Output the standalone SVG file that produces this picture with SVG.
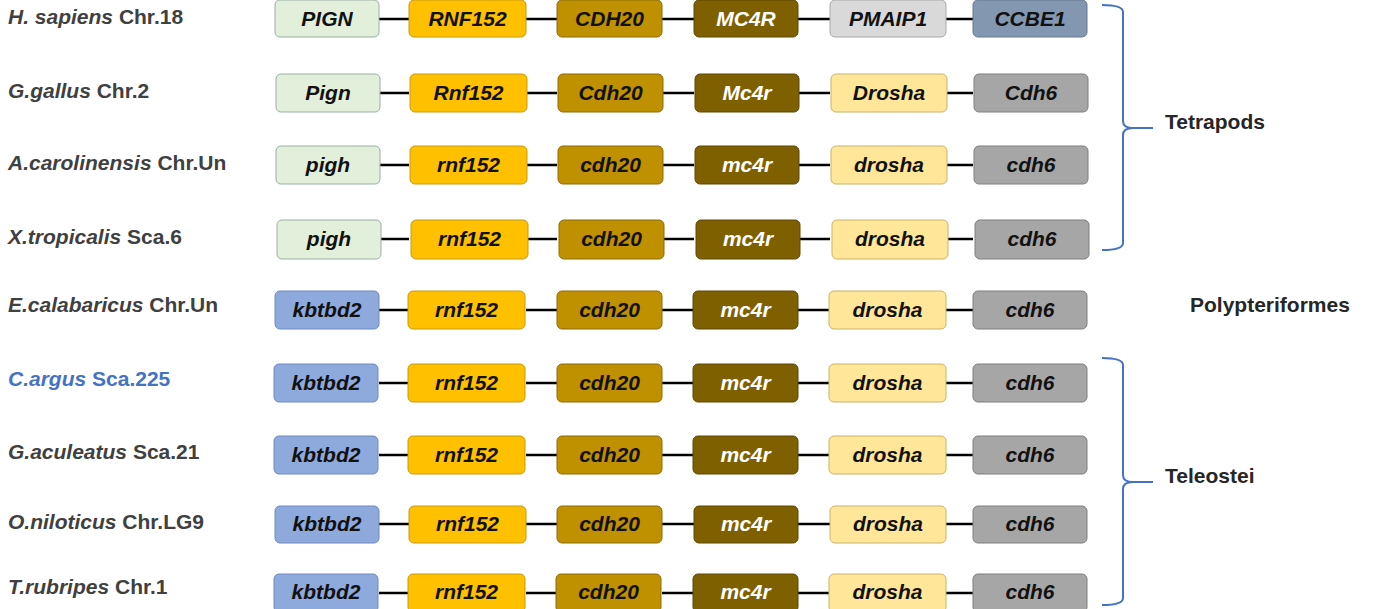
<svg xmlns="http://www.w3.org/2000/svg" width="1374" height="609" viewBox="0 0 1374 609">
<style>
.lbl{font-family:"Liberation Sans",Arial,sans-serif;font-weight:bold;font-size:21px;fill:#404040}
.sp{font-style:italic}
.blue{fill:#4472C4}
.g rect{stroke-width:1}
.g text{font-family:"Liberation Sans",Arial,sans-serif;font-weight:bold;font-style:italic;font-size:21px;fill:#111;text-anchor:middle}
.pign rect{fill:#E2EFDA;stroke:#9AAFA8}
.rnf rect{fill:#FFC000;stroke:#C89A10}
.cdh20 rect{fill:#BF9000;stroke:#8E6C08}
.mc4r rect{fill:#7F6000;stroke:#5E4805}
.mc4r text{fill:#fff}
.pmaip rect{fill:#D9D9D9;stroke:#A8A8A8}
.ccbe rect{fill:#8497B0;stroke:#66788F}
.drosha rect{fill:#FFE699;stroke:#C9B26A}
.cdh6 rect{fill:#A6A6A6;stroke:#7E7E7E}
.kb rect{fill:#8EA9DB;stroke:#6F8AC0}
.conn line{stroke:#000;stroke-width:2.5}
.br{fill:none;stroke:#4472C4;stroke-width:2}
.clade{font-family:"Liberation Sans",Arial,sans-serif;font-weight:bold;font-size:21px;fill:#262626}
</style>

<g id="connectors" class="conn">
<line x1="379" y1="19" x2="409" y2="19"/><line x1="526" y1="19" x2="557" y2="19"/><line x1="662" y1="19" x2="694" y2="19"/><line x1="798" y1="19" x2="830" y2="19"/><line x1="946" y1="19" x2="973" y2="19"/>
<line x1="379" y1="93" x2="409" y2="93"/><line x1="526" y1="93" x2="557" y2="93"/><line x1="662" y1="93" x2="694" y2="93"/><line x1="798" y1="93" x2="830" y2="93"/><line x1="946" y1="93" x2="973" y2="93"/>
<line x1="379" y1="165" x2="409" y2="165"/><line x1="526" y1="165" x2="557" y2="165"/><line x1="662" y1="165" x2="694" y2="165"/><line x1="798" y1="165" x2="830" y2="165"/><line x1="946" y1="165" x2="973" y2="165"/>
<line x1="379" y1="239" x2="409" y2="239"/><line x1="526" y1="239" x2="557" y2="239"/><line x1="662" y1="239" x2="694" y2="239"/><line x1="798" y1="239" x2="830" y2="239"/><line x1="946" y1="239" x2="973" y2="239"/>
<line x1="379" y1="310" x2="409" y2="310"/><line x1="526" y1="310" x2="557" y2="310"/><line x1="662" y1="310" x2="694" y2="310"/><line x1="798" y1="310" x2="830" y2="310"/><line x1="946" y1="310" x2="973" y2="310"/>
<line x1="379" y1="383" x2="409" y2="383"/><line x1="526" y1="383" x2="557" y2="383"/><line x1="662" y1="383" x2="694" y2="383"/><line x1="798" y1="383" x2="830" y2="383"/><line x1="946" y1="383" x2="973" y2="383"/>
<line x1="379" y1="455" x2="409" y2="455"/><line x1="526" y1="455" x2="557" y2="455"/><line x1="662" y1="455" x2="694" y2="455"/><line x1="798" y1="455" x2="830" y2="455"/><line x1="946" y1="455" x2="973" y2="455"/>
<line x1="379" y1="524" x2="409" y2="524"/><line x1="526" y1="524" x2="557" y2="524"/><line x1="662" y1="524" x2="694" y2="524"/><line x1="798" y1="524" x2="830" y2="524"/><line x1="946" y1="524" x2="973" y2="524"/>
<line x1="379" y1="593" x2="409" y2="593"/><line x1="526" y1="593" x2="557" y2="593"/><line x1="662" y1="593" x2="694" y2="593"/><line x1="798" y1="593" x2="830" y2="593"/><line x1="946" y1="593" x2="973" y2="593"/>
</g>

<!-- Row 1 -->
<g id="row1">
<text class="lbl" x="8" y="24"><tspan class="sp">H. sapiens</tspan> Chr.18</text>
<g id="r1-pign" class="g pign"><rect x="275" y="0" width="104" height="37" rx="5"/><text x="327" y="26">PIGN</text></g>
<g id="r1-rnf" class="g rnf"><rect x="409" y="0" width="117" height="37" rx="5"/><text x="467.5" y="26">RNF152</text></g>
<g id="r1-cdh20" class="g cdh20"><rect x="557" y="0" width="105" height="37" rx="5"/><text x="609.5" y="26">CDH20</text></g>
<g id="r1-mc4r" class="g mc4r"><rect x="694" y="0" width="104" height="37" rx="5"/><text x="746" y="26">MC4R</text></g>
<g id="r1-pmaip" class="g pmaip"><rect x="830" y="0" width="116" height="37" rx="5"/><text x="888" y="26">PMAIP1</text></g>
<g id="r1-ccbe" class="g ccbe"><rect x="973" y="0" width="114" height="37" rx="5"/><text x="1030" y="26">CCBE1</text></g>
</g>

<!-- Row 2 -->
<g id="row2">
<text class="lbl" x="8" y="98"><tspan class="sp">G.gallus</tspan> Chr.2</text>
<g id="r2-pign" class="g pign"><rect x="276" y="74" width="104" height="38" rx="5"/><text x="328" y="100">Pign</text></g>
<g id="r2-rnf" class="g rnf"><rect x="410" y="74" width="117" height="38" rx="5"/><text x="468.5" y="100">Rnf152</text></g>
<g id="r2-cdh20" class="g cdh20"><rect x="558" y="74" width="105" height="38" rx="5"/><text x="610.5" y="100">Cdh20</text></g>
<g id="r2-mc4r" class="g mc4r"><rect x="695" y="74" width="104" height="38" rx="5"/><text x="747" y="100">Mc4r</text></g>
<g id="r2-drosha" class="g drosha"><rect x="831" y="74" width="116" height="38" rx="5"/><text x="889" y="100">Drosha</text></g>
<g id="r2-cdh6" class="g cdh6"><rect x="974" y="74" width="114" height="38" rx="5"/><text x="1031" y="100">Cdh6</text></g>
</g>

<!-- Row 3 -->
<g id="row3">
<text class="lbl" x="8" y="170"><tspan class="sp">A.carolinensis</tspan> Chr.Un</text>
<g id="r3-pigh" class="g pign"><rect x="276" y="146" width="104" height="38" rx="5"/><text x="328" y="172">pigh</text></g>
<g id="r3-rnf" class="g rnf"><rect x="410" y="146" width="117" height="38" rx="5"/><text x="468.5" y="172">rnf152</text></g>
<g id="r3-cdh20" class="g cdh20"><rect x="558" y="146" width="105" height="38" rx="5"/><text x="610.5" y="172">cdh20</text></g>
<g id="r3-mc4r" class="g mc4r"><rect x="695" y="146" width="104" height="38" rx="5"/><text x="747" y="172">mc4r</text></g>
<g id="r3-drosha" class="g drosha"><rect x="831" y="146" width="116" height="38" rx="5"/><text x="889" y="172">drosha</text></g>
<g id="r3-cdh6" class="g cdh6"><rect x="974" y="146" width="114" height="38" rx="5"/><text x="1031" y="172">cdh6</text></g>
</g>

<!-- Row 4 -->
<g id="row4">
<text class="lbl" x="8" y="244"><tspan class="sp">X.tropicalis</tspan> Sca.6</text>
<g id="r4-pigh" class="g pign"><rect x="277" y="220" width="104" height="39" rx="5"/><text x="329" y="246">pigh</text></g>
<g id="r4-rnf" class="g rnf"><rect x="411" y="220" width="117" height="39" rx="5"/><text x="469.5" y="246">rnf152</text></g>
<g id="r4-cdh20" class="g cdh20"><rect x="559" y="220" width="105" height="39" rx="5"/><text x="611.5" y="246">cdh20</text></g>
<g id="r4-mc4r" class="g mc4r"><rect x="696" y="220" width="104" height="39" rx="5"/><text x="748" y="246">mc4r</text></g>
<g id="r4-drosha" class="g drosha"><rect x="832" y="220" width="116" height="39" rx="5"/><text x="890" y="246">drosha</text></g>
<g id="r4-cdh6" class="g cdh6"><rect x="975" y="220" width="114" height="39" rx="5"/><text x="1032" y="246">cdh6</text></g>
</g>

<!-- Row 5 -->
<g id="row5">
<text class="lbl" x="8" y="312"><tspan class="sp">E.calabaricus</tspan> Chr.Un</text>
<g id="r5-kb" class="g kb"><rect x="275" y="291" width="104" height="38" rx="5"/><text x="327" y="317">kbtbd2</text></g>
<g id="r5-rnf" class="g rnf"><rect x="408" y="291" width="117" height="38" rx="5"/><text x="466.5" y="317">rnf152</text></g>
<g id="r5-cdh20" class="g cdh20"><rect x="557" y="291" width="105" height="38" rx="5"/><text x="609.5" y="317">cdh20</text></g>
<g id="r5-mc4r" class="g mc4r"><rect x="693" y="291" width="105" height="38" rx="5"/><text x="745.5" y="317">mc4r</text></g>
<g id="r5-drosha" class="g drosha"><rect x="829" y="291" width="117" height="38" rx="5"/><text x="887.5" y="317">drosha</text></g>
<g id="r5-cdh6" class="g cdh6"><rect x="973" y="291" width="114" height="38" rx="5"/><text x="1030" y="317">cdh6</text></g>
</g>

<!-- Row 6 -->
<g id="row6">
<text class="lbl blue" x="8" y="386"><tspan class="sp">C.argus</tspan> Sca.225</text>
<g id="r6-kb" class="g kb"><rect x="274" y="364" width="104" height="38" rx="5"/><text x="326" y="390">kbtbd2</text></g>
<g id="r6-rnf" class="g rnf"><rect x="408" y="364" width="117" height="38" rx="5"/><text x="466.5" y="390">rnf152</text></g>
<g id="r6-cdh20" class="g cdh20"><rect x="557" y="364" width="105" height="38" rx="5"/><text x="609.5" y="390">cdh20</text></g>
<g id="r6-mc4r" class="g mc4r"><rect x="693" y="364" width="105" height="38" rx="5"/><text x="745.5" y="390">mc4r</text></g>
<g id="r6-drosha" class="g drosha"><rect x="829" y="364" width="117" height="38" rx="5"/><text x="887.5" y="390">drosha</text></g>
<g id="r6-cdh6" class="g cdh6"><rect x="973" y="364" width="114" height="38" rx="5"/><text x="1030" y="390">cdh6</text></g>
</g>

<!-- Row 7 -->
<g id="row7">
<text class="lbl" x="8" y="459"><tspan class="sp">G.aculeatus</tspan> Sca.21</text>
<g id="r7-kb" class="g kb"><rect x="274" y="436" width="104" height="38" rx="5"/><text x="326" y="462">kbtbd2</text></g>
<g id="r7-rnf" class="g rnf"><rect x="408" y="436" width="117" height="38" rx="5"/><text x="466.5" y="462">rnf152</text></g>
<g id="r7-cdh20" class="g cdh20"><rect x="557" y="436" width="105" height="38" rx="5"/><text x="609.5" y="462">cdh20</text></g>
<g id="r7-mc4r" class="g mc4r"><rect x="693" y="436" width="105" height="38" rx="5"/><text x="745.5" y="462">mc4r</text></g>
<g id="r7-drosha" class="g drosha"><rect x="829" y="436" width="117" height="38" rx="5"/><text x="887.5" y="462">drosha</text></g>
<g id="r7-cdh6" class="g cdh6"><rect x="973" y="436" width="114" height="38" rx="5"/><text x="1030" y="462">cdh6</text></g>
</g>

<!-- Row 8 -->
<g id="row8">
<text class="lbl" x="8" y="529"><tspan class="sp">O.niloticus</tspan> Chr.LG9</text>
<g id="r8-kb" class="g kb"><rect x="275" y="506" width="104" height="37" rx="5"/><text x="327" y="531">kbtbd2</text></g>
<g id="r8-rnf" class="g rnf"><rect x="409" y="506" width="117" height="37" rx="5"/><text x="467.5" y="531">rnf152</text></g>
<g id="r8-cdh20" class="g cdh20"><rect x="557" y="506" width="105" height="37" rx="5"/><text x="609.5" y="531">cdh20</text></g>
<g id="r8-mc4r" class="g mc4r"><rect x="694" y="506" width="104" height="37" rx="5"/><text x="746" y="531">mc4r</text></g>
<g id="r8-drosha" class="g drosha"><rect x="830" y="506" width="116" height="37" rx="5"/><text x="888" y="531">drosha</text></g>
<g id="r8-cdh6" class="g cdh6"><rect x="973" y="506" width="114" height="37" rx="5"/><text x="1030" y="531">cdh6</text></g>
</g>

<!-- Row 9 -->
<g id="row9">
<text class="lbl" x="8" y="594"><tspan class="sp">T.rubripes</tspan> Chr.1</text>
<g id="r9-kb" class="g kb"><rect x="274" y="574" width="104" height="38" rx="5"/><text x="326" y="599">kbtbd2</text></g>
<g id="r9-rnf" class="g rnf"><rect x="408" y="574" width="117" height="38" rx="5"/><text x="466.5" y="599">rnf152</text></g>
<g id="r9-cdh20" class="g cdh20"><rect x="556" y="574" width="105" height="38" rx="5"/><text x="608.5" y="599">cdh20</text></g>
<g id="r9-mc4r" class="g mc4r"><rect x="693" y="574" width="105" height="38" rx="5"/><text x="745.5" y="599">mc4r</text></g>
<g id="r9-drosha" class="g drosha"><rect x="829" y="574" width="117" height="38" rx="5"/><text x="887.5" y="599">drosha</text></g>
<g id="r9-cdh6" class="g cdh6"><rect x="973" y="574" width="114" height="38" rx="5"/><text x="1030" y="599">cdh6</text></g>
</g>

<!-- Clades -->
<g id="tetrapods">
<path class="br" d="M1102,5 Q1123,5 1123,12 L1123,121 Q1123,128 1133,128 L1153,128 M1133,128 Q1123,128 1123,135 L1123,243 Q1123,250 1102,250"/>
<text class="clade" x="1165" y="129">Tetrapods</text>
</g>
<g id="polypteriformes">
<text class="clade" x="1190" y="312">Polypteriformes</text>
</g>
<g id="teleostei">
<path class="br" d="M1102,358 Q1123,358 1123,365 L1123,475 Q1123,482 1133,482 L1153,482 M1133,482 Q1123,482 1123,489 L1123,598 Q1123,605 1102,605"/>
<text class="clade" x="1165" y="483">Teleostei</text>
</g>
</svg>
